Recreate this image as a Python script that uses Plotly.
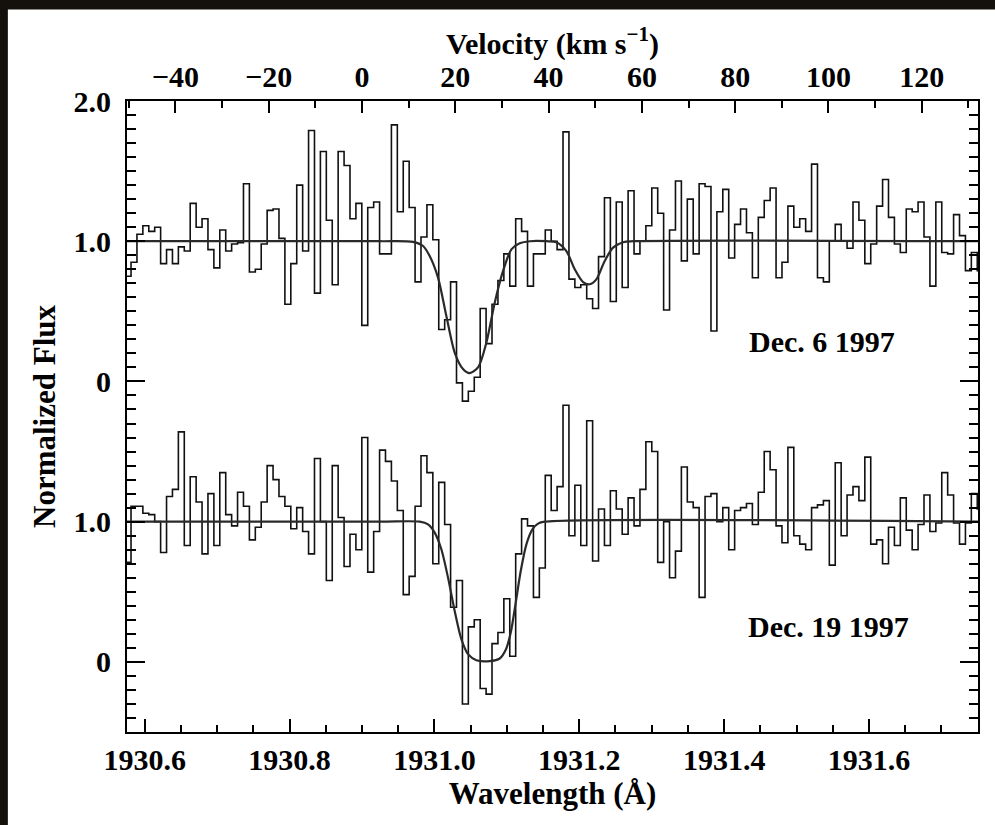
import numpy as np
import plotly.graph_objects as go

# ---------------- data ----------------
wave_range = [1930.5756, 1931.7505]          # wavelength axis limits (Angstrom)
rest_wavelength = 1930.90                     # zero-velocity wavelength
c_kms = 299792.458

# instrument pixel grid (bin edges)
bin_start = 1930.5730
bin_width = 0.00817

# Dec. 6 1997 normalized flux per bin
top_flux = [
    0.75, 0.85, 1.05, 1.11, 1.07, 1.10, 0.84, 0.94, 0.84, 0.96,
    0.93, 1.27, 1.10, 1.16, 0.94, 0.81, 1.08, 0.93, 0.98, 0.99,
    1.41, 0.78, 0.80, 0.98, 1.22, 1.23, 1.02, 0.55, 0.84, 1.40,
    0.93, 1.79, 0.63, 1.64, 1.15, 0.69, 1.64, 1.54, 1.16, 1.27,
    0.40, 1.24, 1.28, 0.91, 0.91, 1.83, 1.21, 1.57, 1.24, 0.71,
    1.03, 1.26, 1.01, 0.37, 0.44, 0.71, -0.01, -0.14, -0.07, 0.03,
    0.52, 0.27, 0.55, 0.72, 0.91, 0.68, 1.16, 1.07, 0.68, 0.91,
    0.91, 1.08, 1.00, 0.94, 1.78, 0.73, 0.67, 0.69, 0.59, 0.52,
    0.89, 1.31, 0.57, 1.28, 0.67, 1.36, 0.91, 1.00, 1.11, 1.38,
    1.20, 0.51, 1.08, 1.43, 0.86, 1.30, 0.91, 1.41, 1.39, 0.36,
    1.21, 1.37, 0.88, 1.12, 1.23, 1.06, 0.74, 1.17, 1.29, 1.38,
    0.74, 0.85, 1.25, 1.10, 1.16, 1.07, 1.55, 0.74, 0.71, 1.00,
    1.12, 1.00, 0.95, 1.28, 1.15, 0.84, 0.98, 1.25, 1.44, 1.17,
    0.98, 0.92, 1.23, 1.21, 1.28, 1.03, 0.68, 1.28, 0.92, 0.91,
    1.19, 1.04, 0.79, 0.92, 0.79,
]

# Dec. 19 1997 normalized flux per bin
bottom_flux = [
    0.71, 1.11, 1.11, 1.06, 1.05, 1.00, 0.78, 1.18, 1.23, 1.64,
    0.83, 1.32, 1.14, 0.77, 1.20, 0.83, 1.35, 1.05, 0.97, 1.21,
    1.11, 0.87, 0.96, 1.14, 1.40, 1.30, 1.18, 1.11, 0.95, 1.10,
    0.93, 0.77, 1.45, 1.00, 0.58, 1.40, 1.03, 0.68, 0.91, 0.80,
    1.60, 0.64, 0.93, 1.51, 1.43, 1.29, 1.08, 0.48, 0.61, 1.11,
    1.47, 1.35, 0.70, 1.28, 0.98, 0.39, 0.58, -0.30, 0.25, 0.30,
    -0.19, -0.23, 0.13, 0.21, 0.45, 0.04, 0.77, 1.02, 0.97, 0.46,
    0.67, 1.33, 1.08, 1.25, 1.83, 0.90, 1.26, 0.83, 1.72, 0.72,
    1.09, 0.83, 1.22, 1.09, 0.91, 1.17, 0.97, 1.23, 1.57, 1.50,
    0.71, 1.00, 0.60, 0.79, 1.39, 1.14, 1.10, 0.46, 1.18, 1.20,
    1.00, 1.10, 0.80, 1.08, 1.10, 1.13, 0.98, 1.21, 1.50, 1.37,
    0.97, 0.85, 1.53, 0.90, 0.84, 0.80, 1.10, 1.12, 1.15, 0.69,
    1.42, 0.90, 1.19, 1.25, 1.15, 1.46, 0.84, 0.87, 0.70, 0.96,
    0.83, 1.17, 0.94, 0.80, 0.98, 1.19, 0.93, 0.99, 1.35, 1.19,
    0.99, 0.84, 0.99, 1.20, 1.09,
]

# fitted absorption-line models
top_model_wave = [1930.56, 1930.9245, 1930.9705, 1930.9843, 1930.9935, 1931.0050,
                  1931.0165, 1931.0280, 1931.0395, 1931.0487, 1931.0602, 1931.0718,
                  1931.0833, 1931.0948, 1931.1063, 1931.1178, 1931.1316, 1931.1546,
                  1931.1684, 1931.1822, 1931.1937, 1931.2052, 1931.2144, 1931.2236,
                  1931.2351, 1931.2467, 1931.2605, 1931.2743, 1931.76]
top_model_flux = [1.0, 1.0, 0.995, 0.966, 0.894, 0.740,
                  0.467, 0.206, 0.088, 0.059, 0.100, 0.278,
                  0.562, 0.788, 0.942, 0.985, 1.0, 1.0,
                  0.993, 0.930, 0.800, 0.709, 0.693, 0.728,
                  0.859, 0.954, 0.993, 1.0, 1.0]

bottom_model_wave = [1930.56, 1930.9245, 1930.9797, 1930.9912, 1931.0004, 1931.0096,
                     1931.0188, 1931.0280, 1931.0372, 1931.0464, 1931.0580, 1931.0764,
                     1931.0902, 1931.0985, 1931.1054, 1931.1123, 1931.1192, 1931.1270,
                     1931.1353, 1931.1431, 1931.1523, 1931.76]
bottom_model_flux = [1.0, 1.0, 1.0, 0.981, 0.922, 0.803,
                     0.601, 0.363, 0.162, 0.055, 0.012, 0.005,
                     0.024, 0.086, 0.209, 0.423, 0.648, 0.838,
                     0.945, 0.986, 1.0, 1.0]

top_offset = 2.0
y_tickvals = [0, 1, 2, 3, 4]
y_ticktext = ["0", "1.0", "0", "1.0", "2.0"]
labels = ["Dec. 6 1997", "Dec. 19 1997"]

# ---------------- figure ----------------
edges = bin_start + bin_width * np.arange(len(top_flux) + 1)
vel_range = [c_kms * (w - rest_wavelength) / rest_wavelength for w in wave_range]

FONT = "Liberation Serif"
INK = "#111111"

fig = go.Figure()

def step_trace(flux, offset):
    yy = [f + offset for f in flux] + [flux[-1] + offset]
    return go.Scatter(x=edges, y=yy, mode="lines", line=dict(shape="hv", color=INK, width=1.6),
                      hoverinfo="skip", showlegend=False)

fig.add_trace(step_trace(top_flux, top_offset))
fig.add_trace(step_trace(bottom_flux, 0.0))

for mw, mf, off in [(top_model_wave, top_model_flux, top_offset),
                    (bottom_model_wave, bottom_model_flux, 0.0)]:
    fig.add_trace(go.Scatter(x=mw, y=[f + off for f in mf], mode="lines",
                             line=dict(shape="spline", smoothing=0.8, color="#2a2a2a", width=2.2),
                             hoverinfo="skip", showlegend=False))

# carrier for the velocity axis
fig.add_trace(go.Scatter(x=vel_range, y=[None, None], xaxis="x2", mode="lines",
                         hoverinfo="skip", showlegend=False))

tickfont = dict(family=FONT, size=30, color="black", weight="bold")
titlefont = dict(family=FONT, size=31, color="black", weight="bold")

fig.update_layout(
    width=995, height=825,
    margin=dict(l=127, r=17, t=101, b=93),
    paper_bgcolor="#14110c",
    plot_bgcolor="white",
    showlegend=False,
    xaxis=dict(
        range=wave_range, tickmode="linear", tick0=1930.6, dtick=0.2, tickformat=".1f",
        ticks="inside", ticklen=13, tickwidth=1.5, tickcolor="black",
        showline=True, linewidth=2, linecolor="black", mirror=False,
        showgrid=False, zeroline=False, tickfont=tickfont, ticklabelstandoff=0,
        minor=dict(ticks="inside", ticklen=7, tick0=1930.6, dtick=0.05,
                   tickwidth=1.5, tickcolor="black", showgrid=False),
        title=dict(text="Wavelength (Å)", font=titlefont, standoff=4),
    ),
    xaxis2=dict(
        overlaying="x", side="top", anchor="y", range=vel_range,
        tickmode="linear", tick0=0, dtick=20,
        ticks="inside", ticklen=12, tickwidth=1.5, tickcolor="black",
        showline=True, linewidth=2, linecolor="black",
        showgrid=False, zeroline=False, tickfont=tickfont, ticklabelstandoff=0,
        minor=dict(ticks="inside", ticklen=7, tick0=0, dtick=10,
                   tickwidth=1.5, tickcolor="black", showgrid=False),
    ),
    yaxis=dict(
        range=[-0.5, 4.0], tickmode="array", tickvals=y_tickvals, ticktext=y_ticktext,
        ticks="inside", ticklen=18, tickwidth=1.5, tickcolor="black",
        showline=True, linewidth=2, linecolor="black", mirror="ticks",
        showgrid=False, zeroline=False, tickfont=tickfont, ticklabelstandoff=8,
        minor=dict(ticks="inside", ticklen=9, tick0=0, dtick=0.1,
                   tickwidth=1.5, tickcolor="black", showgrid=False),
        title=dict(text="Normalized Flux", font=titlefont, standoff=9),
    ),
    shapes=[dict(type="rect", xref="paper", yref="paper", x0=-0.14, x1=1.08,
                 y0=-0.3, y1=1.145, fillcolor="white", line=dict(width=0), layer="below")],
    annotations=[
        dict(text="Velocity (km s<sup>−1</sup>)", x=0.5, y=(732 - 42) / 631, xref="paper", yref="paper",
             xanchor="center", yanchor="middle", showarrow=False,
             font=dict(family=FONT, size=30, color="black", weight="bold")),
        dict(text=labels[0], x=1931.431, y=2.287, xref="x", yref="y", xanchor="left",
             yanchor="middle", showarrow=False, font=dict(family=FONT, size=30, color="black", weight="bold")),
        dict(text=labels[1], x=1931.430, y=0.254, xref="x", yref="y", xanchor="left",
             yanchor="middle", showarrow=False, font=dict(family=FONT, size=30, color="black", weight="bold")),
    ],
)

fig.write_html("out.html")
